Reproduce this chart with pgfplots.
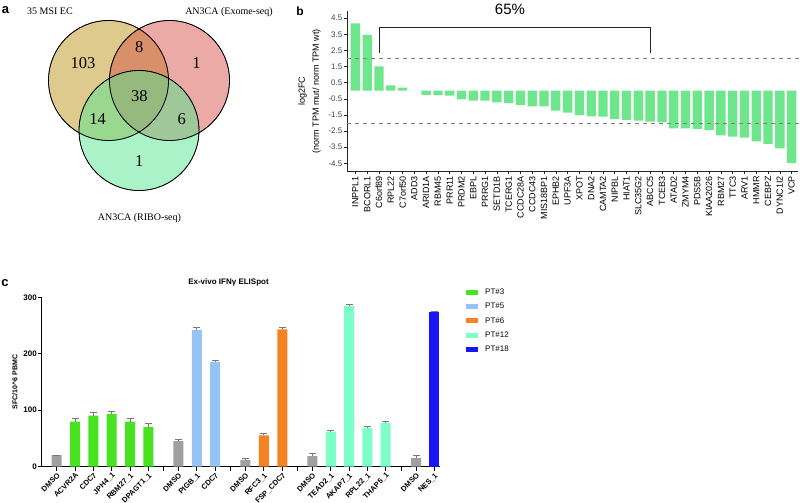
\documentclass[border=0pt]{standalone}
\usepackage{pgfplots}
\pgfplotsset{compat=1.18}
\usepackage{pgfplotstable}
\usepackage{fontspec}
\setmainfont{Liberation Sans}
\newfontfamily\vennfont{Liberation Serif}
\definecolor{vc1}{RGB}{190,150,25}
\definecolor{vc2}{RGB}{215,85,75}
\definecolor{vc3}{RGB}{85,230,145}
\definecolor{bgreen}{RGB}{110,230,140}
\definecolor{pt3}{RGB}{72,226,32}
\definecolor{pt5}{RGB}{150,195,245}
\definecolor{pt6}{RGB}{245,130,35}
\definecolor{pt12}{RGB}{125,255,200}
\definecolor{pt18}{RGB}{25,20,245}
\definecolor{dmso}{RGB}{160,160,160}
\definecolor{errgray}{RGB}{120,120,120}

\pgfplotstableread{
x y
1 4.17
2 3.47
3 1.51
4 0.33
5 0.19
6 0.00
7 -0.25
8 -0.27
9 -0.31
10 -0.54
11 -0.62
12 -0.62
13 -0.72
14 -0.76
15 -0.87
16 -0.97
17 -0.97
18 -1.24
19 -1.36
20 -1.51
21 -1.59
22 -1.61
23 -1.74
24 -1.80
25 -1.86
26 -1.92
27 -1.96
28 -2.33
29 -2.33
30 -2.36
31 -2.44
32 -2.77
33 -2.85
34 -2.91
35 -3.14
36 -3.29
37 -3.58
38 -4.48
}\tabB

\pgfplotstableread{
x y n
83 63 103
139.3 47.3 8
196.5 63 1
139.3 96 38
97.7 119 14
181.7 119 6
139.3 161.5 1
}\tabVenn

\begin{document}
\begin{tikzpicture}
\useasboundingbox (0pt,0pt) rectangle (800pt,503pt);

% ---------- panel a ----------
\begin{axis}[at={(0pt,243pt)}, anchor=south west, scale only axis,
  width=260pt, height=260pt, xmin=0, xmax=260, ymin=-260, ymax=0,
  hide axis, clip=false]
\addplot[only marks, mark=*, mark size=60pt, mark options={draw=none, fill=vc1, fill opacity=0.5}] coordinates {(108.5,-80.5)};
\addplot[only marks, mark=*, mark size=60pt, mark options={draw=none, fill=vc2, fill opacity=0.5}] coordinates {(169.5,-80.5)};
\addplot[only marks, mark=*, mark size=60pt, mark options={draw=none, fill=vc3, fill opacity=0.5}] coordinates {(139,-130.5)};
\addplot[only marks, mark=o, mark size=60pt, mark options={draw=black, line width=0.8pt}] coordinates {(108.5,-80.5) (169.5,-80.5) (139,-130.5)};
\addplot[draw=none, mark=none, nodes near coords, point meta=explicit symbolic,
  nodes near coords style={anchor=center, font=\vennfont\fontsize{16.5}{18}\selectfont}]
  table[x=x, y expr=-\thisrow{y}, meta=n] {\tabVenn};
\node[font=\vennfont\fontsize{10}{12}\selectfont] at (axis cs:50,-11.7) {35 MSI EC};
\node[font=\vennfont\fontsize{10}{12}\selectfont] at (axis cs:229,-12) {AN3CA (Exome-seq)};
\node[font=\vennfont\fontsize{10}{12}\selectfont] at (axis cs:139.5,-218) {AN3CA (RIBO-seq)};
\end{axis}

% ---------- panel b ----------
\begin{axis}[at={(347pt,331.6pt)}, anchor=south west, scale only axis,
  width=451pt, height=160.5pt,
  xmin=0.29, xmax=38.54, ymin=-5, ymax=4.95, clip=false,
  axis x line*=bottom, axis y line*=left,
  axis line style={black!85, line width=0.8pt},
  tick align=outside, major tick length=3pt,
  tick style={black!85, line width=0.6pt},
  xtick={1,...,38},
  xticklabels={INPPL1,BCORL1,C6orf89,RPL22,C7orf50,ADD3,ARID1A,RBM45,PRR11,PRDM2,EBPL,PRRG1,SETD1B,TCERG1,CCDC28A,CCDC43,MIS18BP1,EPHB2,UPF3A,XPOT,DNA2,CAMTA2,NIPBL,HIAT1,SLC35G2,ABCC5,TCEB3,ATAD2,ZMYM4,PDS5B,KIAA2026,RBM27,TTC3,ARV1,HMMR,CEBPZ,DYNC1I2,VCP},
  xticklabel style={rotate=90, anchor=east, font=\fontsize{9}{10}\selectfont, inner sep=1.5pt},
  ytick={-4.5,-3.5,-2.5,-1.5,-0.5,0.5,1.5,2.5,3.5,4.5},
  yticklabels={-4.5,-3.5,-2.5,-1.5,-0.5,0.5,1.5,2.5,3.5,4.5},
  yticklabel style={font=\fontsize{8}{9}\selectfont, text=black!75, inner sep=1.5pt},
  ylabel={log2FC\\(norm TPM mut/ norm TPM wt)},
  ylabel style={at={(axis description cs:-0.083,0.5)}, anchor=center, align=center, font=\fontsize{9}{14}\selectfont}]
\addplot[ybar, bar width=9.3pt, bar shift=0pt, fill=bgreen, draw=none] table[x=x, y=y] {\tabB};
\addplot[gray, line width=0.7pt, dash pattern=on 4pt off 4pt] coordinates {(0.29,2) (38.7,2)};
\addplot[gray, line width=0.7pt, dash pattern=on 4pt off 4pt] coordinates {(0.29,-2) (38.7,-2)};
\addplot[black!85, line width=0.8pt] coordinates {(3,2.36) (3,3.93) (26,3.93) (26,2.36)};
\end{axis}
\node[font=\fontsize{15}{17}\selectfont] at (510pt,494pt) {65\%};

% ---------- panel c ----------
\begin{axis}[at={(42pt,36.3pt)}, anchor=south west, scale only axis,
  width=398pt, height=169.4pt,
  xmin=42, xmax=440, ymin=0, ymax=300, clip=false,
  axis x line*=bottom, axis y line*=left,
  axis line style={black, line width=1pt},
  tick align=outside, major tick length=4pt,
  tick style={black, line width=0.8pt},
  ytick={0,100,200,300}, yticklabels={0,100,200,300},
  yticklabel style={font=\bfseries\fontsize{8}{9}\selectfont, inner sep=1pt},
  xtick={56.7,75,93.3,111.7,130,148.3,163.3,178.3,196.8,215,230.2,245.3,263.8,282.3,297.3,312.3,330.8,349,367.3,385.7,401,416,434.3},
  xticklabels={DMSO,ACVR2A,CDC7,JPH4\_1,RBM27\_1,DPAGT1\_1,{},DMSO,PIGB\_1,CDC7,{},DMSO,RFC3\_1,FSP\_CDC7,{},DMSO,TEAD2\_1,AKAP7\_1,RPL22\_1,THAP5\_1,{},DMSO,NES\_1},
  xticklabel style={rotate=45, anchor=north east, font=\bfseries\fontsize{7.5}{8.5}\selectfont, inner sep=1pt},
  ylabel={SFC/10\textasciicircum 6 PBMC},
  ylabel style={at={(axis description cs:-0.068,0.5)}, anchor=center, font=\bfseries\fontsize{7}{8}\selectfont},
  legend style={at={(1.065,1.06)}, anchor=north west, draw=none, fill=none,
    font=\fontsize{8}{9}\selectfont, inner sep=0pt, row sep=3pt, column sep=5.5pt},
  legend cell align=left,
  legend image code/.code={\fill[#1] (0pt,-2.5pt) rectangle (11.6pt,2.5pt);},
  every axis plot/.append style={ybar, bar width=10pt, bar shift=0pt, draw=none,
    error bars/y dir=plus, error bars/y explicit,
    error bars/error bar style={errgray, line width=0.7pt},
    error bars/error mark options={errgray, rotate=90, mark size=3.5pt, line width=0.7pt}}]
\addplot[fill=pt3] coordinates {(75,79.7) +- (0,6) (93.3,90.4) +- (0,6.5) (111.7,93.3) +- (0,5) (130,79.7) +- (0,6.5) (148.3,70.3) +- (0,7)};
\addlegendentry{PT\#3}
\addplot[fill=pt5] coordinates {(196.8,242) +- (0,4.5) (215,185.4) +- (0,3)};
\addlegendentry{PT\#5}
\addplot[fill=pt6] coordinates {(263.8,55.5) +- (0,4) (282.3,243.3) +- (0,3.5)};
\addlegendentry{PT\#6}
\addplot[fill=pt12] coordinates {(330.8,62) +- (0,2.4) (349,284.5) +- (0,3.5) (367.3,68.5) +- (0,3.5) (385.7,77.4) +- (0,3.5)};
\addlegendentry{PT\#12}
\addplot[fill=pt18] coordinates {(434.3,274) +- (0,1)};
\addlegendentry{PT\#18}
\addplot[fill=dmso, forget plot] coordinates {(56.7,20.7) +- (0,0) (178.3,45.5) +- (0,3.5) (245.3,11.8) +- (0,3.6) (312.3,18.9) +- (0,4) (416,15.4) +- (0,4)};
\end{axis}
\node[font=\bfseries\fontsize{8}{9}\selectfont] at (228.5pt,220.3pt) {Ex-vivo IFNγ ELISpot};

% panel letters
\node[font=\bfseries\fontsize{13}{15}\selectfont] at (5.5pt,493pt) {a};
\node[font=\bfseries\fontsize{12}{14}\selectfont] at (300pt,492pt) {b};
\node[font=\bfseries\fontsize{13}{15}\selectfont] at (5pt,219.5pt) {c};
\end{tikzpicture}
\end{document}
